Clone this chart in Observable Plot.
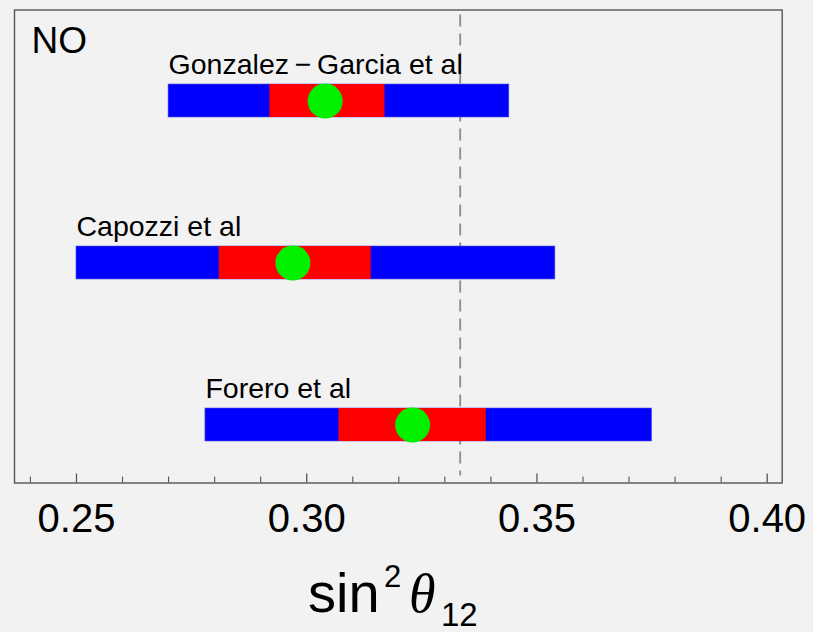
<!DOCTYPE html>
<html>
<head>
<meta charset="utf-8">
<script src="https://cdn.jsdelivr.net/npm/d3@7"></script>
<script src="https://cdn.jsdelivr.net/npm/@observablehq/plot@0.6"></script>
<style>
  html, body { margin: 0; padding: 0; background: #f2f2f2; }
  #chart { width: 813px; height: 632px; }
</style>
</head>
<body>
<div id="chart"></div>
<script>
// ---- data ----
const fits = ["Gonzalez\u2009\u2212\u2009Garcia et al", "Capozzi et al", "Forero et al"];
const bestFit = [0.304, 0.297, 0.323];
const lo1 = [0.292, 0.281, 0.307];
const hi1 = [0.317, 0.314, 0.339];
const lo3 = [0.270, 0.250, 0.278];
const hi3 = [0.344, 0.354, 0.375];
const tribimaximal = [1 / 3];
const majorTicks = [0.25, 0.30, 0.35, 0.40];
const minorTicks = [0.24, 0.26, 0.27, 0.28, 0.29, 0.31, 0.32, 0.33, 0.34, 0.36, 0.37, 0.38, 0.39];
const cornerLabel = ["NO"];

const rows = fits.map((name, i) => ({
  name, best: bestFit[i], lo1: lo1[i], hi1: hi1[i], lo3: lo3[i], hi3: hi3[i]
}));

const W = 813, H = 632, mT = 9.5, mB = 149.5, mL = 14, mR = 31.3;
const plotH = H - mT - mB;
const font = "'Liberation Sans', Arial, Helvetica, sans-serif";

const chart = Plot.plot({
  width: W,
  height: H,
  marginTop: mT,
  marginBottom: mB,
  marginLeft: mL,
  marginRight: mR,
  style: { background: "transparent", fontFamily: font, color: "#000" },
  x: { domain: [0.23654, 0.40326], label: null },
  y: { type: "band", domain: fits, paddingInner: 0.7969, paddingOuter: 0.3538, align: 0.642, axis: null, label: null },
  marks: [
    Plot.ruleX(tribimaximal, { stroke: "#8a8a8a", strokeWidth: 1.8, strokeDasharray: "12,7", insetTop: 5, insetBottom: 7 }),
    Plot.barX(rows, { y: "name", x1: "lo3", x2: "hi3", fill: "#0000ff", stroke: "#5555dd", strokeWidth: 0.6 }),
    Plot.barX(rows, { y: "name", x1: "lo1", x2: "hi1", fill: "#ff0000" }),
    Plot.dot(rows, { y: "name", x: "best", r: 17.5, fill: "#00f000", stroke: "none" }),
    Plot.text(rows, { y: "name", x: "lo3", text: "name", textAnchor: "start", lineAnchor: "bottom", dy: -27.5, fontSize: 28.5, fill: "#000" }),
    Plot.text(cornerLabel, { frameAnchor: "top-left", text: d => d, textAnchor: "start", lineAnchor: "top", dx: 17, dy: 16.5, fontSize: 37, fill: "#000" }),
    Plot.ruleX(majorTicks, { stroke: "#555", strokeWidth: 1.3, insetTop: plotH - 9 }),
    Plot.ruleX(minorTicks, { stroke: "#555", strokeWidth: 1.1, insetTop: plotH - 6 }),
    Plot.axisX(majorTicks, { tickSize: 0, tickPadding: 21, tickFormat: d3.format(".2f"), fontSize: 40, fill: "#000", label: null }),
    Plot.frame({ stroke: "#555", strokeWidth: 1.4 })
  ]
});

document.getElementById("chart").appendChild(chart);

// axis title sin^2 theta_12 as SVG text with tspans
const svg = d3.select(chart);
const t = svg.append("text")
  .attr("font-family", font)
  .attr("text-anchor", "start")
  .attr("fill", "#000");
t.append("tspan").attr("x", 308).attr("y", 612).attr("font-size", 56).text("sin");
t.append("tspan").attr("x", 384).attr("y", 587).attr("font-size", 31).text("2");
t.append("tspan").attr("x", 409).attr("y", 612).attr("font-size", 54)
  .attr("font-style", "italic").attr("font-family", "'Liberation Serif', 'DejaVu Serif', serif").text("\u03b8");
t.append("tspan").attr("x", 441).attr("y", 626).attr("font-size", 33).text("12");
</script>
</body>
</html>
